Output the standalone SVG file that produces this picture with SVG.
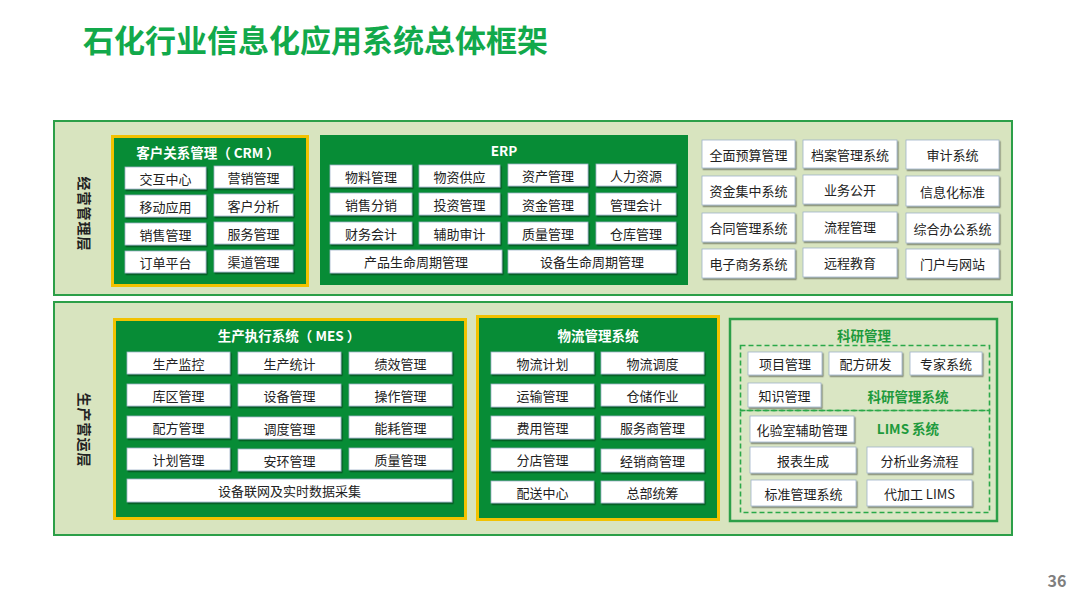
<svg xmlns="http://www.w3.org/2000/svg" width="1080" height="608" viewBox="0 0 1080 608">
<defs>
<filter id="sh" x="-10%" y="-10%" width="130%" height="140%">
<feDropShadow dx="1.2" dy="1.5" stdDeviation="0.6" flood-color="#000" flood-opacity="0.45"/>
</filter>
</defs>
<style>
text{font-family:"Noto Sans CJK SC","Noto Sans",sans-serif;}
.panel{fill:#d8e4bf;stroke:#2c9f48;stroke-width:2;}
.sys{fill:#078c36;stroke:#f2c200;stroke-width:3;}
.erp{fill:#078c36;}
.it rect{fill:#fff;stroke:#9fb2c8;stroke-width:0.8;filter:url(#sh);}
.it text{font-size:13px;fill:#222;text-anchor:middle;dominant-baseline:central;}
.st{font-size:13.5px;font-weight:bold;fill:#fff;text-anchor:middle;dominant-baseline:central;}
.gt{font-size:13.5px;font-weight:bold;fill:#1e9a3c;text-anchor:middle;dominant-baseline:central;}
.lay{font-size:14px;font-weight:bold;fill:#222;text-anchor:middle;dominant-baseline:central;letter-spacing:1px;}
.dash{fill:none;stroke:#2aa848;stroke-width:1.6;stroke-dasharray:5 3;}
</style>
<rect width="1080" height="608" fill="#fff"/>
<text x="83" y="38" font-size="31" font-weight="bold" fill="#12a94b" dominant-baseline="central">石化行业信息化应用系统总体框架</text>

<g id="layer-mgmt">
<rect class="panel" x="54" y="121" width="958" height="174"/>
<text class="lay" transform="translate(85,214) rotate(90)">经营管理层</text>
</g>
<g id="layer-prod">
<rect class="panel" x="54" y="302" width="958" height="233"/>
<text class="lay" transform="translate(85,430) rotate(90)">生产营运层</text>
</g>

<g id="crm">
<rect class="sys" x="112.5" y="136.5" width="195" height="149"/>
<text class="st" x="208" y="152">客户关系管理（ CRM ）</text>
<g class="it" id="crm-1"><rect x="125" y="167" width="81" height="22"/><text x="165.5" y="178">交互中心</text></g>
<g class="it" id="crm-2"><rect x="214" y="166" width="79" height="22"/><text x="253.5" y="177">营销管理</text></g>
<g class="it" id="crm-3"><rect x="125" y="195" width="81" height="22"/><text x="165.5" y="206">移动应用</text></g>
<g class="it" id="crm-4"><rect x="214" y="194" width="79" height="22"/><text x="253.5" y="205">客户分析</text></g>
<g class="it" id="crm-5"><rect x="125" y="223" width="81" height="22"/><text x="165.5" y="234">销售管理</text></g>
<g class="it" id="crm-6"><rect x="214" y="222" width="79" height="22"/><text x="253.5" y="233">服务管理</text></g>
<g class="it" id="crm-7"><rect x="125" y="251" width="81" height="22"/><text x="165.5" y="262">订单平台</text></g>
<g class="it" id="crm-8"><rect x="214" y="250" width="79" height="22"/><text x="253.5" y="261">渠道管理</text></g>
</g>

<g id="erp">
<rect class="erp" x="320" y="135" width="368" height="150"/>
<text class="st" x="504" y="150">ERP</text>
<g class="it" id="erp-1"><rect x="330" y="165" width="82" height="22"/><text x="371" y="176">物料管理</text></g>
<g class="it" id="erp-2"><rect x="419" y="165" width="81" height="22"/><text x="459.5" y="176">物资供应</text></g>
<g class="it" id="erp-3"><rect x="508" y="164" width="80" height="22"/><text x="548" y="175">资产管理</text></g>
<g class="it" id="erp-4"><rect x="596" y="164" width="80" height="22"/><text x="636" y="175">人力资源</text></g>
<g class="it" id="erp-5"><rect x="330" y="193" width="82" height="22"/><text x="371" y="204">销售分销</text></g>
<g class="it" id="erp-6"><rect x="419" y="193" width="81" height="22"/><text x="459.5" y="204">投资管理</text></g>
<g class="it" id="erp-7"><rect x="508" y="193" width="80" height="22"/><text x="548" y="204">资金管理</text></g>
<g class="it" id="erp-8"><rect x="596" y="193" width="80" height="22"/><text x="636" y="204">管理会计</text></g>
<g class="it" id="erp-9"><rect x="330" y="222" width="82" height="22"/><text x="371" y="233">财务会计</text></g>
<g class="it" id="erp-10"><rect x="419" y="222" width="81" height="22"/><text x="459.5" y="233">辅助审计</text></g>
<g class="it" id="erp-11"><rect x="508" y="222" width="80" height="22"/><text x="548" y="233">质量管理</text></g>
<g class="it" id="erp-12"><rect x="596" y="222" width="80" height="22"/><text x="636" y="233">仓库管理</text></g>
<g class="it" id="erp-13"><rect x="330" y="250" width="172" height="23"/><text x="416" y="261.5">产品生命周期管理</text></g>
<g class="it" id="erp-14"><rect x="508" y="250" width="168" height="23"/><text x="592" y="261.5">设备生命周期管理</text></g>
</g>

<g id="mgmt-apps">
<g class="it" id="app-1"><rect x="702" y="140" width="93" height="28"/><text x="748.5" y="154">全面预算管理</text></g>
<g class="it" id="app-2"><rect x="803" y="140" width="94" height="28"/><text x="850" y="154">档案管理系统</text></g>
<g class="it" id="app-3"><rect x="906" y="140" width="93" height="29"/><text x="952.5" y="154.5">审计系统</text></g>
<g class="it" id="app-4"><rect x="702" y="176" width="93" height="29"/><text x="748.5" y="190.5">资金集中系统</text></g>
<g class="it" id="app-5"><rect x="803" y="175" width="94" height="29"/><text x="850" y="189.5">业务公开</text></g>
<g class="it" id="app-6"><rect x="906" y="176" width="93" height="30"/><text x="952.5" y="191">信息化标准</text></g>
<g class="it" id="app-7"><rect x="702" y="213" width="93" height="29"/><text x="748.5" y="227.5">合同管理系统</text></g>
<g class="it" id="app-8"><rect x="803" y="212" width="94" height="29"/><text x="850" y="226.5">流程管理</text></g>
<g class="it" id="app-9"><rect x="906" y="213" width="93" height="30"/><text x="952.5" y="228">综合办公系统</text></g>
<g class="it" id="app-10"><rect x="702" y="249" width="93" height="29"/><text x="748.5" y="263.5">电子商务系统</text></g>
<g class="it" id="app-11"><rect x="803" y="248" width="94" height="29"/><text x="850" y="262.5">远程教育</text></g>
<g class="it" id="app-12"><rect x="906" y="249" width="93" height="29"/><text x="952.5" y="263.5">门户与网站</text></g>
</g>

<g id="mes">
<rect class="sys" x="114.5" y="319.5" width="351" height="199"/>
<text class="st" x="289" y="335">生产执行系统（ MES ）</text>
<g class="it" id="mes-1"><rect x="127" y="352" width="103" height="22"/><text x="178.5" y="363">生产监控</text></g>
<g class="it" id="mes-2"><rect x="238" y="352" width="103" height="22"/><text x="289.5" y="363">生产统计</text></g>
<g class="it" id="mes-3"><rect x="349" y="352" width="103" height="22"/><text x="400.5" y="363">绩效管理</text></g>
<g class="it" id="mes-4"><rect x="127" y="384" width="103" height="22"/><text x="178.5" y="395">库区管理</text></g>
<g class="it" id="mes-5"><rect x="238" y="384" width="103" height="22"/><text x="289.5" y="395">设备管理</text></g>
<g class="it" id="mes-6"><rect x="349" y="384" width="103" height="22"/><text x="400.5" y="395">操作管理</text></g>
<g class="it" id="mes-7"><rect x="127" y="416" width="103" height="22"/><text x="178.5" y="427">配方管理</text></g>
<g class="it" id="mes-8"><rect x="238" y="417" width="103" height="22"/><text x="289.5" y="428">调度管理</text></g>
<g class="it" id="mes-9"><rect x="349" y="416" width="103" height="22"/><text x="400.5" y="427">能耗管理</text></g>
<g class="it" id="mes-10"><rect x="127" y="448" width="103" height="22"/><text x="178.5" y="459">计划管理</text></g>
<g class="it" id="mes-11"><rect x="238" y="449" width="103" height="22"/><text x="289.5" y="460">安环管理</text></g>
<g class="it" id="mes-12"><rect x="349" y="448" width="103" height="22"/><text x="400.5" y="459">质量管理</text></g>
<g class="it" id="mes-13"><rect x="127" y="479" width="325" height="23"/><text x="289.5" y="490.5">设备联网及实时数据采集</text></g>
</g>

<g id="logistics">
<rect class="sys" x="477.5" y="316.5" width="241" height="203"/>
<text class="st" x="598" y="335">物流管理系统</text>
<g class="it" id="log-1"><rect x="491" y="352" width="103" height="22"/><text x="542.5" y="363">物流计划</text></g>
<g class="it" id="log-2"><rect x="601" y="352" width="103" height="22"/><text x="652.5" y="363">物流调度</text></g>
<g class="it" id="log-3"><rect x="491" y="384" width="103" height="23"/><text x="542.5" y="395.5">运输管理</text></g>
<g class="it" id="log-4"><rect x="601" y="384" width="103" height="22"/><text x="652.5" y="395">仓储作业</text></g>
<g class="it" id="log-5"><rect x="491" y="416" width="103" height="23"/><text x="542.5" y="427.5">费用管理</text></g>
<g class="it" id="log-6"><rect x="601" y="416" width="103" height="22"/><text x="652.5" y="427">服务商管理</text></g>
<g class="it" id="log-7"><rect x="491" y="448" width="103" height="23"/><text x="542.5" y="459.5">分店管理</text></g>
<g class="it" id="log-8"><rect x="601" y="449" width="103" height="23"/><text x="652.5" y="460.5">经销商管理</text></g>
<g class="it" id="log-9"><rect x="491" y="481" width="103" height="22"/><text x="542.5" y="492">配送中心</text></g>
<g class="it" id="log-10"><rect x="601" y="481" width="103" height="22"/><text x="652.5" y="492">总部统筹</text></g>
</g>

<g id="research">
<rect x="730" y="319" width="267" height="202" fill="#dae6c4" stroke="#2c9f48" stroke-width="2.5"/>
<text class="gt" x="864" y="335">科研管理</text>
<rect class="dash" x="740.5" y="345.5" width="249" height="65"/>
<rect class="dash" x="740.5" y="410.5" width="249" height="102"/>
<text class="gt" x="908" y="396">科研管理系统</text>
<text class="gt" x="908" y="428">LIMS 系统</text>
<g class="it" id="rd-1"><rect x="748" y="352" width="74" height="23"/><text x="785" y="363.5">项目管理</text></g>
<g class="it" id="rd-2"><rect x="829" y="352" width="73" height="23"/><text x="865.5" y="363.5">配方研发</text></g>
<g class="it" id="rd-3"><rect x="910" y="352" width="72" height="23"/><text x="946" y="363.5">专家系统</text></g>
<g class="it" id="rd-4"><rect x="748" y="383" width="73" height="24"/><text x="784.5" y="395">知识管理</text></g>
<g class="it" id="rd-5"><rect x="750" y="416" width="104" height="26"/><text x="802" y="429">化验室辅助管理</text></g>
<g class="it" id="rd-6"><rect x="750" y="447" width="106" height="26"/><text x="803" y="460">报表生成</text></g>
<g class="it" id="rd-7"><rect x="867" y="447" width="105" height="26"/><text x="919.5" y="460">分析业务流程</text></g>
<g class="it" id="rd-8"><rect x="751" y="480" width="105" height="26"/><text x="803.5" y="493">标准管理系统</text></g>
<g class="it" id="rd-9"><rect x="867" y="480" width="105" height="26"/><text x="919.5" y="493">代加工 LIMS</text></g>
</g>

<text x="1057" y="580" font-size="16" font-weight="bold" fill="#7f7f7f" text-anchor="middle" dominant-baseline="central">36</text>
</svg>
